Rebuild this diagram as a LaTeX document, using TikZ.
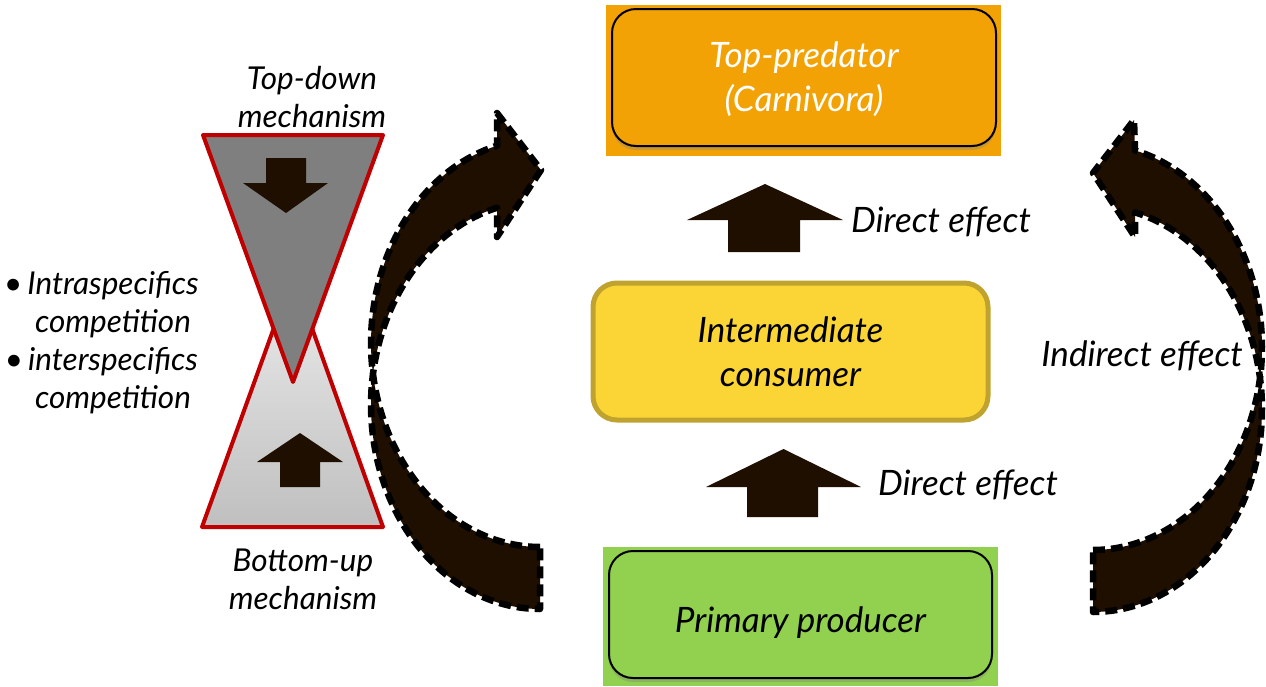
\documentclass[tikz,border=0pt]{standalone}
\usepackage{fontspec}
\setmainfont{Lato}
\usetikzlibrary{shadows}
\definecolor{orangebox}{HTML}{F2A204}
\definecolor{yellowbox}{HTML}{FAD535}
\definecolor{yellowedge}{HTML}{BFA32E}
\definecolor{greenbox}{HTML}{92D050}
\definecolor{darkarrow}{HTML}{1E0F00}
\definecolor{hgred}{HTML}{C00000}
\definecolor{hggray}{HTML}{7F7F7F}
\tikzset{
  txt/.style={font=\itshape\fontsize{35}{42}\selectfont, text=black, inner sep=0pt, align=center},
  smalltxt/.style={font=\itshape\fontsize{31.5}{38}\selectfont, text=black, inner sep=0pt, align=center},
  levelbox/.style={rounded corners=24pt, inner sep=0pt, align=center,
    font=\itshape\fontsize{35}{44}\selectfont},
  blockarrow/.style={fill=darkarrow},
  curvedarrow/.style={fill=darkarrow, draw=black, line width=6.5pt, dash pattern=on 12pt off 6pt, line join=round},
  hgtri/.style={draw=hgred, line width=4pt, line join=round}
}
\begin{document}
\begin{tikzpicture}[x=1pt,y=-1pt]
\useasboundingbox (0,0) rectangle (1266,686);

% ---------- level boxes ----------
\fill[orangebox] (606,5) rectangle (1001,156);
\node[levelbox, fill=orangebox, draw=black, line width=2pt, text=white,
      minimum width=384pt, minimum height=137pt,
      drop shadow={shadow xshift=0pt, shadow yshift=-4pt, opacity=0.35}]
      (top) at (804,77.5) {\raisebox{-3pt}[\height][\depth]{\begin{tabular}{@{}c@{}}Top-predator\\[0pt](Carnivora)\end{tabular}}};

\node[levelbox, fill=yellowbox, draw=yellowedge, line width=5pt, text=black,
      minimum width=395pt, minimum height=137pt]
      (mid) at (790.5,351.5) {Intermediate\\consumer};

\fill[greenbox] (603,547) rectangle (998,686);
\node[levelbox, fill=greenbox, draw=black, line width=2pt, text=black,
      minimum width=383pt, minimum height=127pt,
      drop shadow={shadow xshift=0pt, shadow yshift=-4pt, opacity=0.35}]
      (prim) at (800.5,614.5) {\raisebox{-8pt}[\height][\depth]{Primary producer}};

% ---------- straight block arrows ----------
\fill[blockarrow] (728,252) -- (800,252) -- (800,220) -- (843,220) -- (765,184)
   -- (687,220) -- (728,220) -- cycle;
\node[txt, anchor=west] (de1) at (851,222) {Direct effect};

\fill[blockarrow] (747,517) -- (818,517) -- (818,487) -- (861,487) -- (783.5,449)
   -- (706,487) -- (747,487) -- cycle;
\node[txt, anchor=west] (de2) at (878,485) {Direct effect};

\node[txt] (ind) at (1142,356) {Indirect effect};

% ---------- curved arrows ----------
\path[curvedarrow] (540,547)
  -- plot[domain=90:255.3, samples=80] ({540+169*cos(\x)}, {343+204*sin(\x)})
  -- (497,113) -- (541,170) -- (497,237)
  -- plot[domain=255.3:90, samples=80] ({540+169*cos(\x)}, {405+204*sin(\x)})
  -- cycle;

\path[curvedarrow] (1093,550)
  -- plot[domain=90:255.6, samples=80] ({1093-169*cos(\x)}, {347+203*sin(\x)})
  -- (1134,120) -- (1093,173) -- (1135,237)
  -- plot[domain=255.6:90, samples=80] ({1093-169*cos(\x)}, {409+203*sin(\x)})
  -- cycle;

% ---------- hourglass ----------
\path[hgtri, top color=gray!15, bottom color=gray!50] (202,527) -- (383,527) -- (293,275) -- cycle;
\path[hgtri, fill=hggray] (203,135) -- (383,135) -- (293,382) -- cycle;
\fill[blockarrow] (266,158) -- (306,158) -- (306,183) -- (328,183) -- (286,213)
   -- (243,183) -- (266,183) -- cycle;
\fill[blockarrow] (280,487) -- (320,487) -- (320,462) -- (343,462) -- (300,433)
   -- (257,462) -- (280,462) -- cycle;

\node[smalltxt] (td) at (312,97) {Top-down\\mechanism};
\node[smalltxt] (bu) at (303,579) {Bottom-up\\mechanism};
\node[smalltxt] (comp) at (113,343)
  {\llap{\textbullet\hspace{5pt}}Intraspecifics\\competition\\\llap{\textbullet\hspace{5pt}}interspecifics\\competition};
\end{tikzpicture}
\end{document}
